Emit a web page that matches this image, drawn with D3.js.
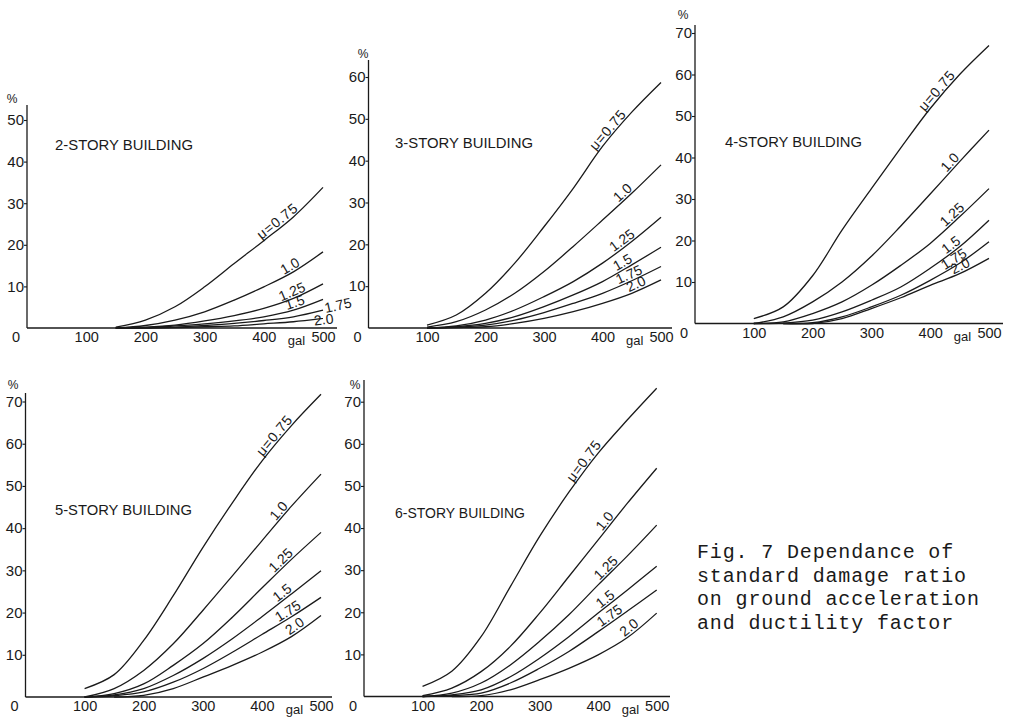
<!DOCTYPE html>
<html><head><meta charset="utf-8">
<script src="https://cdn.jsdelivr.net/npm/d3@7"></script>
<style>
body{margin:0;background:#fff}
svg{display:block;background:#fff}
text{font-family:"Liberation Sans",Arial,sans-serif;fill:#1a1a1a}
</style>
</head><body>
<svg id="c" width="1010" height="721"></svg>
<script>
// ---------- data ----------
const gal = [100, 150, 200, 250, 300, 350, 400, 450, 500];
const ductility = ["μ=0.75", "1.0", "1.25", "1.5", "1.75", "2.0"];
const titles = ["2-STORY BUILDING", "3-STORY BUILDING", "4-STORY BUILDING", "5-STORY BUILDING", "6-STORY BUILDING"];
const xTicks = [100, 200, 300, 400, 500];
const yTicks50 = [10, 20, 30, 40, 50];
const yTicks60 = [10, 20, 30, 40, 50, 60];
const yTicks70 = [10, 20, 30, 40, 50, 60, 70];

// damage ratio (%) per ductility factor, at the gal values above (null = no curve)
const story2 = [
  [null, 0.2, 1.9, 5.1, 9.9, 15.5, 21.0, 26.7, 33.8],
  [null, 0, 0.6, 1.9, 3.9, 6.7, 9.9, 13.5, 18.3],
  [null, 0, 0.2, 0.7, 1.7, 3.0, 4.7, 7.1, 10.6],
  [null, 0, 0.1, 0.5, 1.0, 1.7, 2.7, 4.3, 6.9],
  [null, 0, 0.05, 0.2, 0.6, 1.1, 1.8, 2.7, 4.3],
  [null, 0, 0, 0.1, 0.3, 0.5, 1.0, 1.5, 2.3]
];
const story3 = [
  [0.7, 3.1, 8.3, 15.5, 24.2, 33.4, 43.4, 51.6, 58.7],
  [0.2, 1.5, 4.3, 8.3, 13.5, 19.5, 25.8, 32.2, 39.0],
  [0, 0.5, 1.9, 4.3, 7.5, 11.1, 15.5, 20.7, 26.5],
  [0, 0.3, 1.1, 2.7, 5.1, 7.9, 11.1, 15.1, 19.3],
  [0, 0.2, 0.7, 1.9, 3.7, 5.9, 8.3, 11.3, 14.7],
  [0, 0.1, 0.3, 1.1, 2.3, 3.9, 5.9, 8.3, 11.5]
];
const story4 = [
  [1.2, 4.0, 11.5, 22.5, 32.5, 42.3, 51.8, 60.0, 67.0],
  [0, 1.6, 5.2, 10.0, 16.2, 23.5, 31.2, 39.0, 46.6],
  [0, 0.4, 2.4, 5.2, 9.2, 14.0, 19.3, 25.7, 32.5],
  [0, 0.1, 0.8, 2.8, 5.6, 8.8, 13.3, 18.5, 24.9],
  [null, 0, 0.2, 1.6, 4.0, 6.8, 10.4, 14.5, 19.7],
  [null, 0, 0, 1.2, 3.6, 6.2, 9.2, 12.0, 15.7]
];
const story5 = [
  [2.0, 5.3, 13.4, 24.0, 35.4, 46.0, 55.9, 64.3, 71.7],
  [0, 2.0, 6.3, 12.6, 20.5, 28.7, 37.0, 45.2, 52.8],
  [0, 0.8, 3.1, 7.5, 12.6, 18.9, 25.8, 32.6, 39.0],
  [0, 0.5, 2.0, 5.1, 9.1, 13.8, 19.0, 24.4, 29.9],
  [0, 0.3, 1.2, 3.5, 6.7, 10.6, 14.8, 19.0, 23.6],
  [null, 0, 0.4, 2.0, 4.7, 7.5, 10.6, 14.3, 19.3]
];
const story6 = [
  [2.4, 6.0, 14.2, 26.1, 38.0, 48.5, 57.8, 65.7, 73.2],
  [0.2, 2.0, 5.9, 11.9, 19.8, 28.5, 37.2, 45.9, 54.2],
  [0, 0.8, 3.2, 7.5, 13.1, 19.4, 26.5, 33.4, 40.7],
  [0, 0.4, 1.6, 4.7, 9.1, 14.2, 19.8, 25.3, 30.9],
  [0, 0.2, 0.8, 3.2, 6.7, 10.7, 15.4, 20.3, 25.3],
  [null, 0, 0.2, 1.6, 4.0, 6.7, 9.9, 14.0, 19.8]
];
const captionLines = ["Fig. 7 Dependance of", "standard damage ratio", "on ground acceleration", "and ductility factor"];

// ---------- layout (positions only) ----------
const panels = [
  {data: story2, ticks: yTicks50, x0: 27,  x500: 323, y0: 328,   yv: 50, ypx: 120,   top: 105, xEnd: 337,
   title: [55, 150, 138], pct: [12, 103],
   lab: [[430, 2], [450, 2], [452, 2], [456, 2], [527, 0], [501, -6]]},
  {data: story3, ticks: yTicks60, x0: 368.5, x500: 661, y0: 328, yv: 60, ypx: 77,   top: 60,  xEnd: 672,
   title: [395, 148, 138], pct: [363, 58],
   lab: [[418, 2], [442, 2], [440, 2], [440, 2], [450, 2], [462, 2]]},
  {data: story4, ticks: yTicks70, x0: 695, x500: 989, y0: 323.5,  yv: 70, ypx: 33,    top: 25,  xEnd: 1003,
   title: [725, 146.5, 137], pct: [683, 19],
   lab: [[420, 2], [442, 2], [445, 2], [442, 2], [446, 2], [456, 2]]},
  {data: story5, ticks: yTicks70, x0: 25.5, x500: 321, y0: 697,   yv: 70, ypx: 401.5, top: 393, xEnd: 332,
   title: [55, 515, 137], pct: [13, 389],
   lab: [[430, 2], [437, 2], [440, 2], [441, 2], [450, 2], [462, 2]]},
  {data: story6, ticks: yTicks70, x0: 364, x500: 656.7, y0: 696.5, yv: 70, ypx: 401.7, top: 380, xEnd: 670,
   title: [395, 518, 130], pct: [355, 389],
   lab: [[385, 2], [420, 2], [421, 2], [419, 2], [426, 2], [460, 2]]}
];

const svg = d3.select("#c");
svg.append("rect").attr("width", 1010).attr("height", 721).attr("fill", "#fff");
const ink = "#1a1a1a";

function valueAt(row, g) {
  g = Math.max(100, Math.min(500, g));
  for (let i = 0; i < gal.length - 1; i++) {
    if (g >= gal[i] && g <= gal[i + 1]) {
      const a = row[i] == null ? 0 : row[i], b = row[i + 1] == null ? 0 : row[i + 1];
      const t = (g - gal[i]) / (gal[i + 1] - gal[i]);
      return a + (b - a) * t;
    }
  }
  return row[row.length - 1];
}

panels.forEach((P, pi) => {
  const x = d3.scaleLinear().domain([0, 500]).range([P.x0, P.x500]);
  const y = d3.scaleLinear().domain([0, P.yv]).range([P.y0, P.ypx]);
  const g = svg.append("g");

  // axes lines
  g.append("line").attr("x1", x(0)).attr("x2", x(0)).attr("y1", P.y0).attr("y2", P.top)
    .attr("stroke", ink).attr("stroke-width", 1.3);
  g.append("line").attr("x1", x(0)).attr("x2", P.xEnd).attr("y1", P.y0).attr("y2", P.y0)
    .attr("stroke", ink).attr("stroke-width", 1.3);

  // y axis ticks
  const ya = g.append("g").attr("transform", `translate(${x(0)},0)`)
    .call(d3.axisLeft(y).tickValues(P.ticks).tickSize(3).tickPadding(0).tickFormat(d3.format("d")));
  ya.select(".domain").remove();
  ya.selectAll("line").attr("stroke", ink).attr("stroke-width", 1.1);
  ya.selectAll("text").attr("font-size", 15).attr("fill", ink)
    .style("font-family", '"Liberation Sans",Arial,sans-serif');

  // x axis ticks
  const xa = g.append("g").attr("transform", `translate(0,${P.y0})`)
    .call(d3.axisBottom(x).tickValues(xTicks).tickSize(0).tickPadding(4).tickFormat(d3.format("d")));
  xa.select(".domain").remove();
  xa.selectAll("text").attr("font-size", 14.5).attr("fill", ink)
    .style("font-family", '"Liberation Sans",Arial,sans-serif');

  // origin label, unit labels
  g.append("text").attr("x", x(0) - 11).attr("y", P.y0 + 4).attr("dy", "0.71em")
    .attr("text-anchor", "middle").attr("font-size", 14.5).text("0");
  g.append("text").attr("x", x(455)).attr("y", P.y0 + 17)
    .attr("text-anchor", "middle").attr("font-size", 13).text("gal");
  g.append("text").attr("x", P.pct[0]).attr("y", P.pct[1])
    .attr("text-anchor", "middle").attr("font-size", 12).text("%");

  // title
  g.append("text").attr("x", P.title[0]).attr("y", P.title[1])
    .attr("font-size", 15).attr("textLength", P.title[2]).attr("lengthAdjust", "spacingAndGlyphs")
    .text(titles[pi]);

  // curves
  const line = d3.line()
    .defined(d => d[1] != null)
    .x(d => x(d[0])).y(d => y(d[1]))
    .curve(d3.curveCatmullRom.alpha(0.5));
  P.data.forEach((row, k) => {
    const pts = gal.map((gv, i) => [gv, row[i]]);
    g.append("path").attr("d", line(pts)).attr("fill", "none")
      .attr("stroke", ink).attr("stroke-width", 1.3).attr("stroke-linejoin", "round");

    // label along the curve
    const [lg, off] = P.lab[k];
    const gc = Math.min(lg, 500);
    const px = x(lg), py = y(valueAt(row, gc));
    const ga = Math.min(gc, 490);
    const dx = x(ga + 10) - x(ga - 10);
    const dy = y(valueAt(row, ga + 10)) - y(valueAt(row, ga - 10));
    const ang = Math.atan2(dy, dx);
    const nx = Math.sin(ang) * off, ny = -Math.cos(ang) * off;
    g.append("text")
      .attr("transform", `translate(${px + nx},${py + ny}) rotate(${ang * 180 / Math.PI})`)
      .attr("text-anchor", "middle").attr("font-size", 14)
      .attr("letter-spacing", k === 0 ? 0.8 : 0)
      .text(ductility[k]);
  });
});

// caption
svg.append("g").selectAll("text").data(captionLines).join("text")
  .attr("x", 697).attr("y", (d, i) => 558 + i * 23.5)
  .style("font-family", '"Liberation Mono","Courier New",monospace')
  .attr("font-size", 20).attr("letter-spacing", 0.85).attr("fill", "#222")
  .text(d => d);
</script>
</body></html>
